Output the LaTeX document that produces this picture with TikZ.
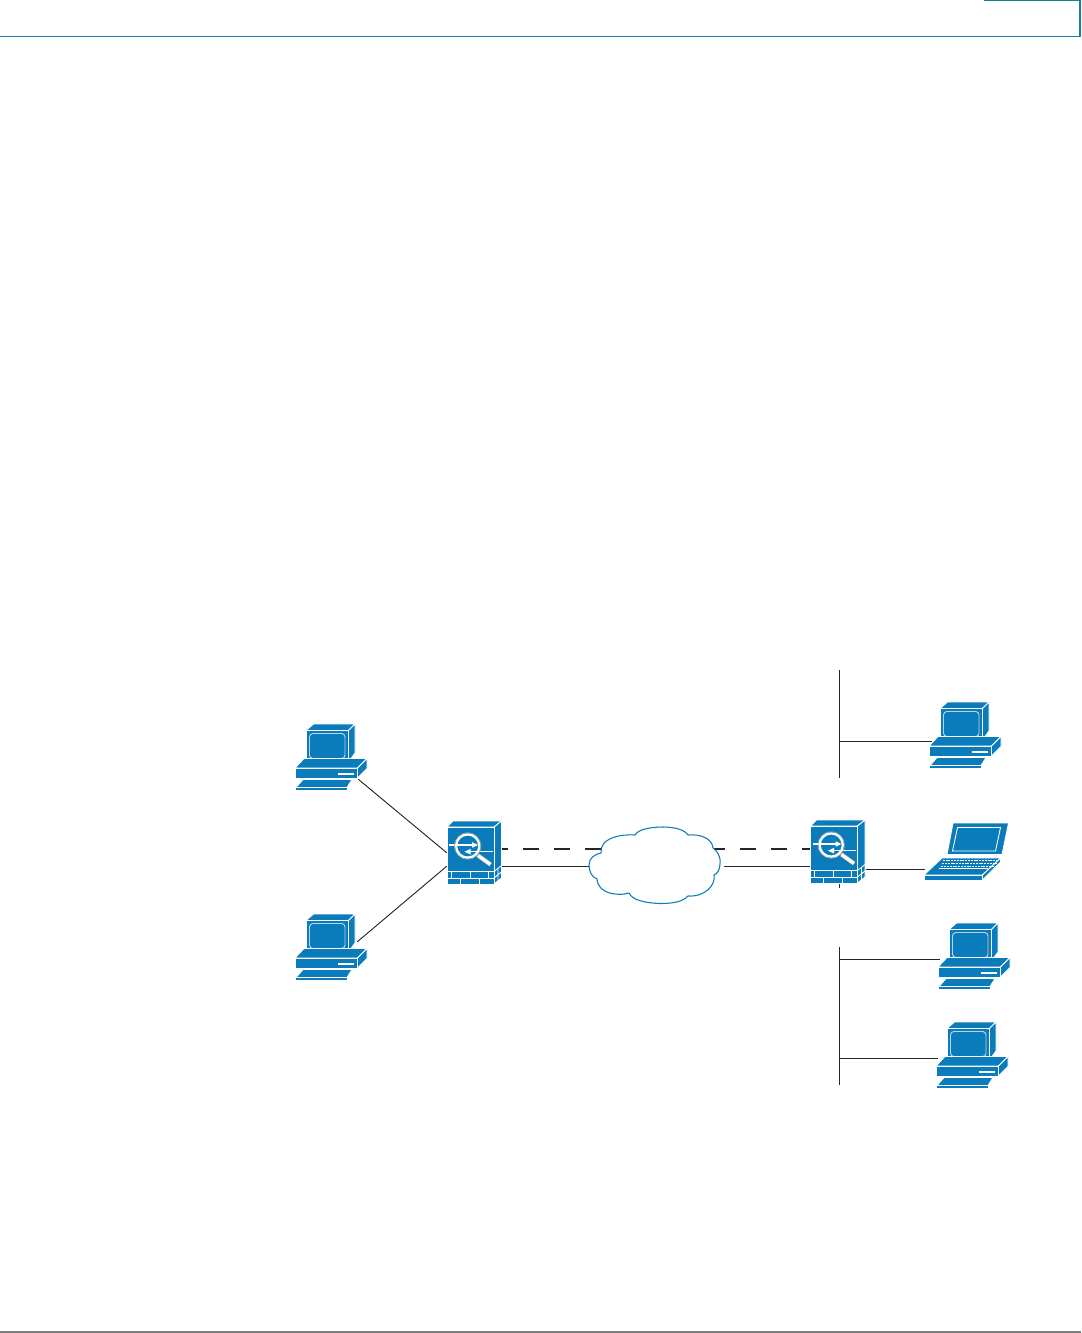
\documentclass[tikz,border=0pt]{standalone}
\usepackage{tikz}
\usetikzlibrary{positioning}
\definecolor{devblue}{HTML}{0A7BBB}
\definecolor{rulecol}{HTML}{1A7F9A}
\tikzset{
  x=0.75pt, y=-0.75pt,
  devface/.style={fill=devblue, draw=white, line width=0.65pt, line join=round},
  devline/.style={draw=white, line width=0.65pt},
  wire/.style={draw=black!85, line width=0.7pt},
  vpnlink/.style={draw=black!85, line width=1.5pt, dash pattern=on 12pt off 11.25pt, dash phase=7.5pt},
  cloudline/.style={draw=devblue, line width=0.8pt, fill=white},
  pagerule/.style={draw=rulecol, line width=0.8pt},
  footrule/.style={draw=black!50, line width=0.9pt},
  anchornode/.style={inner sep=0pt, minimum size=0pt},
  pics/desktop/.style={code={
    % monitor
    \draw[devface] (26,20.5) -- (33.5,14) -- (75,14) -- (68.5,20.5) -- cycle;
    \draw[devface] (68.5,20.5) -- (75,14) -- (75,43) -- (68.5,52) -- cycle;
    \draw[devface] (26,20.5) rectangle (68.5,52);
    \draw[draw=white!70!devblue, line width=0.7pt, rounded corners=2.5pt] (29.5,23.5) rectangle (65,48.5);
    % base
    \draw[devface] (15,58) -- (24,48.5) -- (87,48.5) -- (77.5,58) -- cycle;
    \draw[devface] (77.5,58) -- (87,48.5) -- (87,58.5) -- (77.5,68) -- cycle;
    \draw[devface] (15,58) rectangle (77.5,68.5);
    \fill[white] (58,62.5) rectangle (74,64.5);
    % keyboard
    \draw[devface] (16,77.5) -- (23,69.5) -- (72,69.5) -- (67,77.5) -- cycle;
    \fill[devblue] (16,77.5) rectangle (67,79.5);
  }},
  pics/firewall/.style={code={
    \draw[devface] (17,17) -- (23,11) -- (71.5,11) -- (64,17) -- cycle;
    \draw[devface] (64,17) -- (71.5,11) -- (71.5,68) -- (64,74) -- cycle;
    \draw[devface] (17,17) rectangle (64,74.5);
    % bricks
    \draw[devline] (17,61.5) -- (64,61.5) (17,68) -- (64,68);
    \draw[devline] (21,61.5) -- (21,68) (40,61.5) -- (40,68) (58,61.5) -- (58,68);
    \draw[devline] (30,68) -- (30,74) (49,68) -- (49,74);
    \draw[devline] (64,61.5) -- (71.5,55.5) (64,68) -- (71.5,62) (68,58) -- (68,71);
    % arrows
    \draw[devline, line width=0.9pt] (19,35) -- (45,35);
    \fill[white] (48,35) -- (42,32.2) -- (42,37.8) -- cycle;
    \draw[devline, line width=0.9pt] (37,41.7) -- (62.5,41.7);
    \fill[white] (34.5,41.7) -- (40.5,38.9) -- (40.5,44.5) -- cycle;
    % glass
    \draw[draw=black!35, line width=0.5pt] (37.7,36) circle (13.2);
    \draw[draw=white, line width=1.7pt] (37.7,36) circle (11.6);
    \draw[draw=black!35, line width=3.4pt] (48,45.5) -- (60.5,54.5);
    \draw[draw=white, line width=2.4pt] (48,45.5) -- (60.5,54.5);
  }},
  pics/laptop/.style={code={
    \draw[devface] (43,13) -- (98.5,13) -- (92,44.5) -- (37,44.5) -- cycle;
    \draw[devline] (47.5,17.5) -- (90.5,17.5) -- (85.5,41) -- (42.5,41) -- cycle;
    \draw[devface] (14,65) -- (32,48) -- (90.5,48) -- (72.5,65) -- cycle;
    \draw[devface] (72.5,65) -- (90.5,48) -- (90.5,52) -- (72.5,70) -- cycle;
    \draw[devface] (14,65) rectangle (72.5,70);
    \foreach \ky in {50.5,53.5,56.5}
      \draw[draw=white, line width=0.5pt, dash pattern=on 1.5pt off 0.6pt]
        (33-\ky/4+12.5,\ky) -- (88-\ky/4+12.5,\ky);
    \draw[devline] (29,58.5) -- (78,58.5);
  }}
}
\begin{document}
\begin{tikzpicture}
  \useasboundingbox (0,0) rectangle (1081,1333);
  % page furniture
  \coordinate (headl) at (0,36.5);
  \coordinate (headr) at (1080,36.5);
  \coordinate (tabt) at (1080,0.5);
  \coordinate (tabl) at (984,0.5);
  \coordinate (footl) at (0,1332);
  \coordinate (footr) at (1081,1332);
  \draw[pagerule] (headl) -- (headr) -- (tabt) -- (tabl);
  \draw[footrule] (footl) -- (footr);
  % anchors
  \node[anchornode] (host1) at (358,779) {};
  \node[anchornode] (host2) at (357,942) {};
  \node[anchornode] (fwl) at (447,853) {};
  \node[anchornode] (fwlb) at (447,866) {};
  \node[anchornode] (fwlv) at (502,848.5) {};
  \node[anchornode] (fwlw) at (502,866) {};
  \node[anchornode] (fwrv) at (810,848.5) {};
  \node[anchornode] (fwrw) at (810,866) {};
  \node[anchornode] (fwrl) at (866,869.5) {};
  \node[anchornode] (lap) at (925,869.5) {};
  \node[anchornode] (cloudl) at (590,866) {};
  \node[anchornode] (cloudr) at (724,866) {};
  \node[anchornode] (busta) at (839,670) {};
  \node[anchornode] (bustb) at (839,778) {};
  \node[anchornode] (busba) at (839,947) {};
  \node[anchornode] (busbb) at (839,1085) {};
  \node[anchornode] (stuba) at (839,884) {};
  \node[anchornode] (stubb) at (839,888) {};
  \node[anchornode] (tapa) at (839,741.5) {};
  \node[anchornode] (tapb) at (839,959.5) {};
  \node[anchornode] (tapc) at (839,1058.5) {};
  \node[anchornode] (host3) at (932,741.5) {};
  \node[anchornode] (host4) at (940,959.5) {};
  \node[anchornode] (host5) at (938,1058.5) {};
  % links
  \draw[wire] (host1) -- (fwl);
  \draw[wire] (host2) -- (fwlb);
  \draw[wire] (fwlw) -- (cloudl);
  \draw[wire] (cloudr) -- (fwrw);
  \draw[wire] (fwrl) -- (lap);
  \draw[wire] (busta) -- (bustb);
  \draw[wire] (busba) -- (busbb);
  \draw[wire] (stuba) -- (stubb);
  \draw[wire] (tapa) -- (host3);
  \draw[wire] (tapb) -- (host4);
  \draw[wire] (tapc) -- (host5);
  \draw[vpnlink] (fwlv) -- (fwrv);
  % cloud
  \draw[cloudline] (601.5,848) .. controls (604,838) and (620,834) .. (635,835)
    .. controls (638,829) and (652,827) .. (663,827)
    .. controls (675,827) and (685,830) .. (688,835)
    .. controls (700,834) and (712,838) .. (713,848)
    .. controls (717,851) and (721,856) .. (720,864)
    .. controls (720,870) and (717,874) .. (714,875)
    .. controls (716,885) and (705,897) .. (688,896)
    .. controls (682,903) and (668,903.5) .. (660,903.5)
    .. controls (645,903) and (632,900) .. (629,893)
    .. controls (620,896) and (598,895) .. (597,879)
    .. controls (592,877) and (589,872) .. (589,865)
    .. controls (589,858) and (595,854) .. (601,853) -- cycle;
  % devices
  \pic at (280,710) {desktop};
  \pic at (280,900) {desktop};
  \pic at (914,688) {desktop};
  \pic at (923,909) {desktop};
  \pic at (921,1008) {desktop};
  \pic at (430,810) {firewall};
  \pic at (793.5,809) {firewall};
  \pic at (910,810) {laptop};
\end{tikzpicture}
\end{document}
